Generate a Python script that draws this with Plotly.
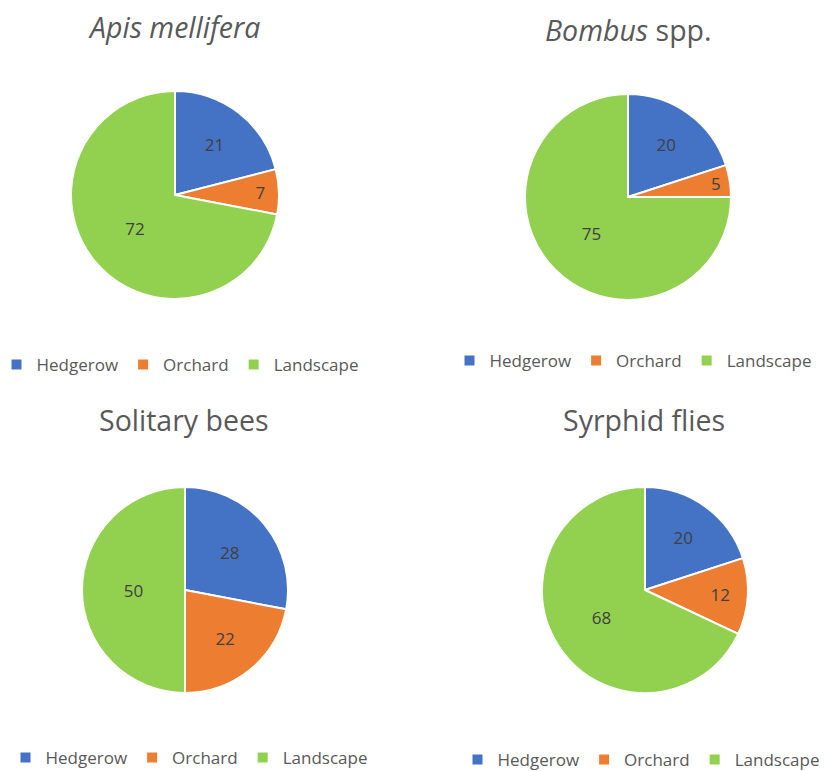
import plotly.graph_objects as go

categories = ["Hedgerow", "Orchard", "Landscape"]
apis_values = [21, 7, 72]
bombus_values = [20, 5, 75]
solitary_values = [28, 22, 50]
syrphid_values = [20, 12, 68]
titles = ["<i>Apis mellifera</i>", "<i>Bombus</i> spp.", "Solitary bees", "Syrphid flies"]

colors = ["#4472C4", "#ED7D31", "#92D050"]
W, H = 825, 771
FONT = "Open Sans"

def dom(cx, cy, r):
    return dict(x=[(cx - r) / W, (cx + r) / W], y=[(H - cy - r) / H, (H - cy + r) / H])

specs = [
    (apis_values, dom(175, 195, 104), "legend", (180, 365), (174, 27)),
    (bombus_values, dom(628, 197, 103), "legend2", (633, 361), (628, 30)),
    (solitary_values, dom(185, 590, 103), "legend3", (189, 758), (184, 420)),
    (syrphid_values, dom(645, 590, 103), "legend4", (641, 760), (644, 420)),
]

fig = go.Figure()
annotations = []
legends = {}
for i, (vals, d, lg, lpos, tpos) in enumerate(specs):
    # zero-width suffix keeps each pie's legend entries separate
    labels = [c + "\u200b" * i for c in categories]
    fig.add_trace(go.Pie(
        labels=labels, values=vals, domain=d, sort=False,
        direction="clockwise", rotation=0,
        marker=dict(colors=colors, line=dict(color="white", width=2)),
        textinfo="value", textposition="inside",
        insidetextorientation="horizontal",
        textfont=dict(family=FONT, size=17, color="#404040"),
        legend=lg, hoverinfo="label+value",
    ))
    annotations.append(dict(
        text=titles[i], x=tpos[0] / W, y=1 - tpos[1] / H, xref="paper", yref="paper",
        xanchor="center", yanchor="middle", showarrow=False,
        font=dict(family=FONT, size=28.5, color="#595959"),
    ))
    legends[lg] = dict(
        orientation="h", x=lpos[0] / W, y=1 - lpos[1] / H, xanchor="center", yanchor="middle",
        font=dict(family=FONT, size=17, color="#595959"),
        bgcolor="rgba(0,0,0,0)", itemwidth=30,
    )

fig.update_layout(
    width=W, height=H, margin=dict(l=0, r=0, t=0, b=0, autoexpand=False),
    paper_bgcolor="white", plot_bgcolor="white",
    annotations=annotations, **legends,
)
fig.write_html("out.html", config={"displayModeBar": False})

with open("out.html", "r", encoding="utf-8") as f:
    html = f.read()
html = html.replace("<body>", '<body style="margin:0;padding:0;overflow:hidden">', 1)
with open("out.html", "w", encoding="utf-8") as f:
    f.write(html)
